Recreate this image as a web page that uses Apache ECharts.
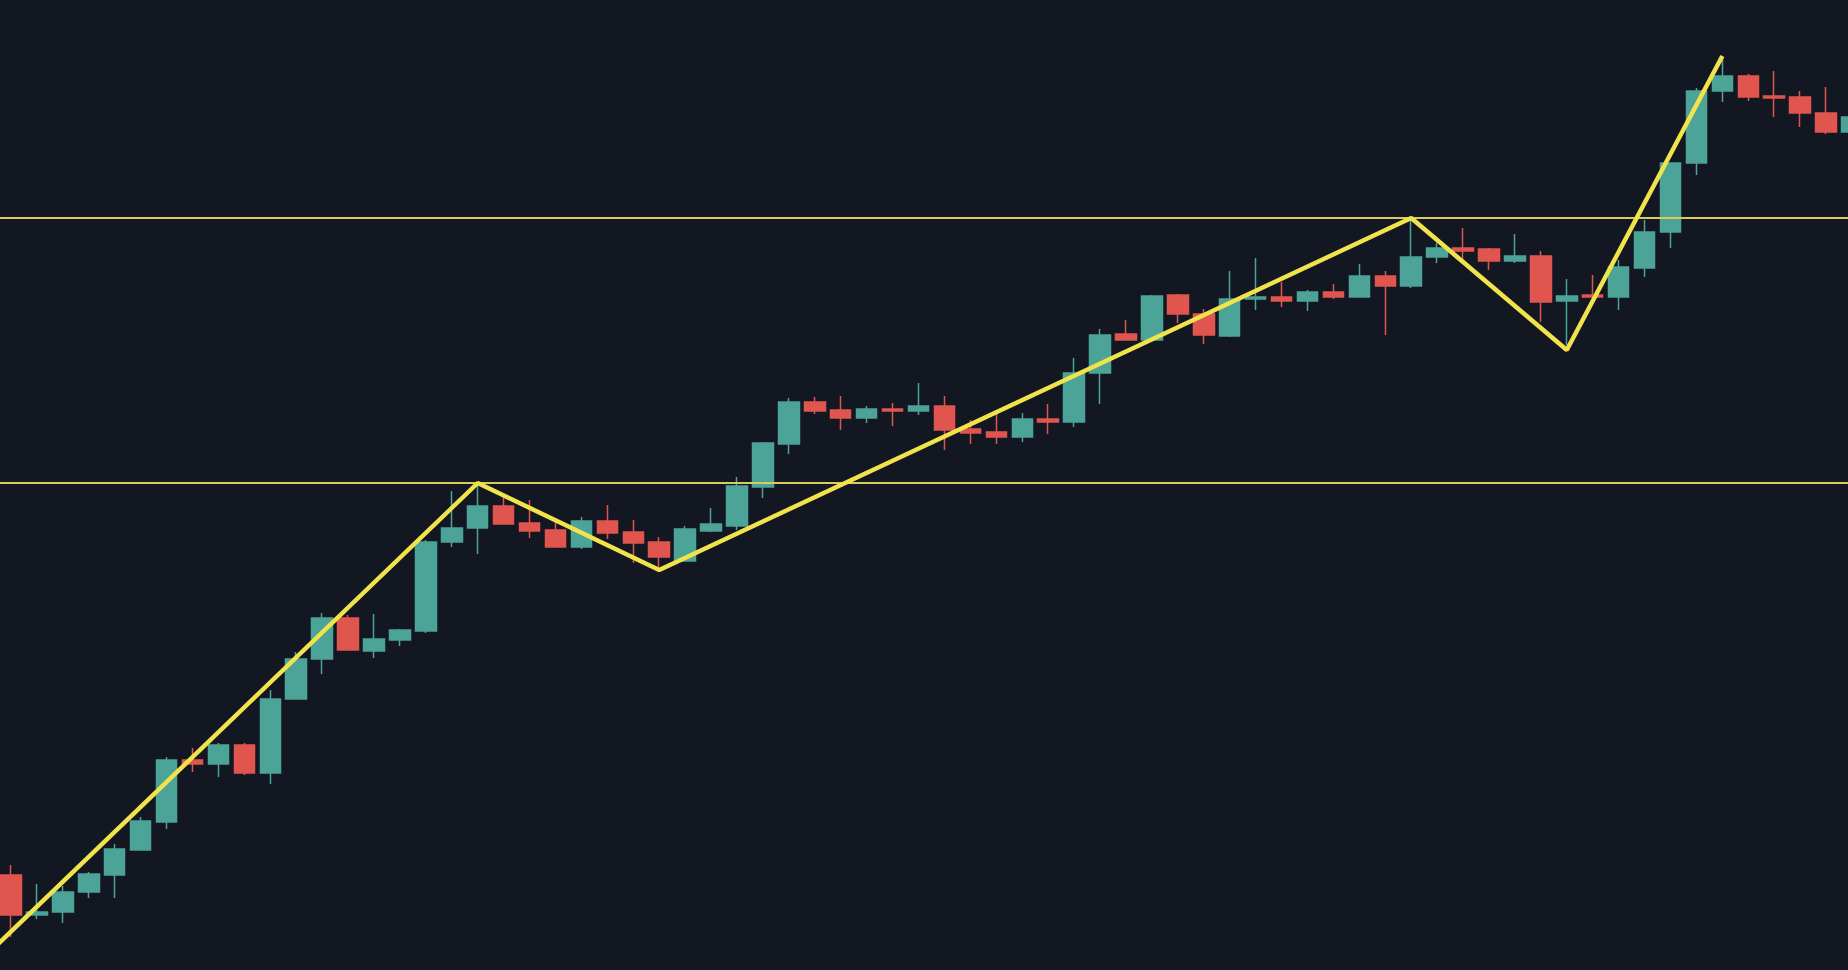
<!DOCTYPE html>
<html>
<head>
<meta charset="utf-8">
<script src="https://cdn.jsdelivr.net/npm/echarts@6/dist/echarts.min.js"></script>
<style>
html,body{margin:0;padding:0;background:#131722;}
#chart{width:1848px;height:970px;}
</style>
</head>
<body>
<div id="chart"></div>
<script>
// Candle data (price units), one entry per bar
const opens  = [95,55,58,78,95,120,148,210,206,225,197,271,311,352,319,330,339,428,442,464,447,440,423,449,438,428,409,439,444,483,526,568,560,552,561,559,564,541,538,533,551,548,597,636,630,675,656,634,671,673,669,678,673,694,684,713,722,721,709,714,669,675,673,702,738,807,879,894,874,873,857,838];
const closes = [55,58,78,96,121,149,210,206,225,197,271,311,352,320,331,340,428,442,464,446,439,423,449,437,427,413,441,446,484,527,568,559,552,561,559,564,540,537,533,551,548,597,635,630,674,656,635,671,673,669,678,673,694,684,713,722,719,709,714,668,674,673,703,738,807,879,894,873,872,857,838,853];
const lows   = [33,51,47,72,72,120,141,198,193,195,186,271,296,320,312,324,337,423,416,446,432,423,421,431,407,403,409,438,440,472,516,556,540,547,544,555,520,526,526,528,536,543,566,630,630,647,626,633,660,663,659,671,673,635,682,707,707,700,707,648,625,673,660,693,722,795,868,869,853,843,836,836];
const highs  = [105,86,84,98,126,153,213,222,227,227,280,318,357,355,356,341,430,479,487,473,470,450,453,465,450,433,444,462,493,528,572,573,574,564,567,587,574,550,556,557,566,612,641,650,675,676,661,699,712,688,680,686,706,699,752,727,742,722,736,719,691,695,710,750,807,882,913,896,899,879,883,855];

// Zigzag pivots: [bar index, price]
const zigzagIdx   = [-0.5, 18, 25, 54, 60, 66];
const zigzagPrice = [26, 487, 400, 752, 620, 914];

// Horizontal levels
const levels = [487, 752];

const categories = opens.map((_, i) => String(i));
const candleData = opens.map((o, i) => [o, closes[i], lows[i], highs[i]]);
const zigzagData = zigzagIdx.map((x, i) => [x, zigzagPrice[i]]);

const UP = '#4ca397', DOWN = '#e0564f';

const chart = echarts.init(document.getElementById('chart'), null, {renderer: 'canvas'});
chart.setOption({
  backgroundColor: '#131722',
  animation: false,
  grid: {left: -2, top: 0, width: 1867, height: 970, containLabel: false, outerBoundsMode: 'none'},
  xAxis: [
    {type: 'category', data: categories, show: false, boundaryGap: true},
    {type: 'value', min: -0.5, max: categories.length - 0.5, show: false}
  ],
  yAxis: {type: 'value', min: 0, max: 970, show: false, splitLine: {show: false}},
  series: [
    {
      type: 'candlestick',
      xAxisIndex: 0,
      data: candleData,
      barWidth: 21,
      itemStyle: {
        color: UP, color0: DOWN,
        borderColor: UP, borderColor0: DOWN,
        borderWidth: 1.5
      }
    },
    {
      type: 'line',
      xAxisIndex: 1,
      data: zigzagData,
      symbol: 'none',
      lineStyle: {color: '#f1e34c', width: 4.5},
      z: 5,
      markLine: {
        silent: true,
        symbol: ['none', 'none'],
        label: {show: false},
        lineStyle: {color: '#d6cd5e', width: 2, type: 'solid'},
        data: levels.map(v => ({yAxis: v}))
      }
    }
  ]
});
</script>
</body>
</html>
